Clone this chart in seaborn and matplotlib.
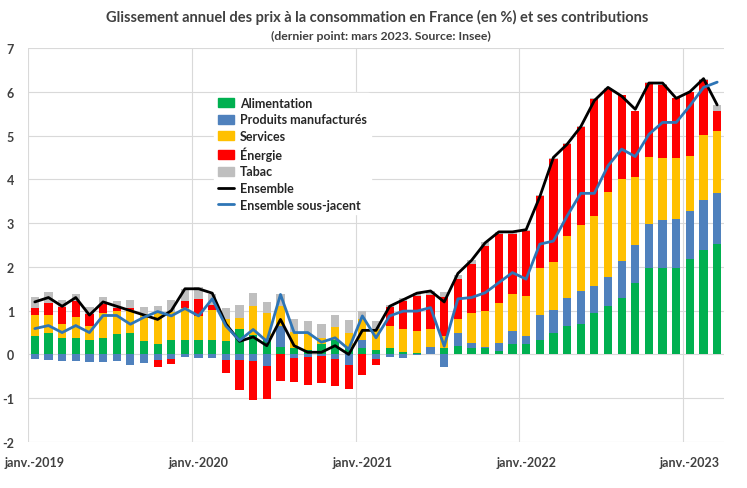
import matplotlib
matplotlib.use("Agg")
import matplotlib.pyplot as plt
import matplotlib.patches as mpatches
import matplotlib.lines as mlines
import numpy as np
import seaborn as sns

months = [f"{m:02d}-{y}" for y in range(2019, 2024) for m in range(1, 13)][:51]
tick_labels = ["janv.-2019", "janv.-2020", "janv.-2021", "janv.-2022", "janv.-2023"]

alimentation = [0.43, 0.48, 0.38, 0.38, 0.34, 0.38, 0.46, 0.50, 0.31, 0.25, 0.32, 0.32,
                0.32, 0.33, 0.31, 0.57, 0.45, 0.34, 0.18, 0.14, 0.11, 0.23, 0.34, 0.15,
                0.15, 0.11, 0.15, 0.05, 0.03, 0.02, 0.15, 0.19, 0.15, 0.15, 0.08, 0.23,
                0.23, 0.34, 0.50, 0.65, 0.69, 0.95, 1.11, 1.30, 1.63, 1.97, 1.97, 1.97,
                2.18, 2.39, 2.52]
manufactures = [-0.11, -0.13, -0.14, -0.14, -0.17, -0.17, -0.15, -0.23, -0.19, -0.13, -0.11, -0.06,
                -0.08, -0.08, -0.13, -0.13, -0.15, -0.27, 0.46, -0.08, -0.05, -0.03, -0.10, -0.25,
                0.19, -0.10, -0.06, -0.08, -0.02, 0.15, -0.28, 0.31, 0.12, 0.03, 0.19, 0.30,
                0.19, 0.55, 0.52, 0.65, 0.76, 0.61, 0.67, 0.84, 0.87, 1.01, 1.09, 1.12,
                1.09, 1.13, 1.16]
services = [0.47, 0.41, 0.31, 0.48, 0.31, 0.57, 0.53, 0.52, 0.61, 0.70, 0.65, 0.75,
            0.56, 0.69, 0.49, 0.27, 0.65, 0.60, 0.46, 0.37, 0.35, 0.15, 0.29, 0.35,
            0.46, 0.46, 0.51, 0.52, 0.50, 0.40, 0.27, 0.30, 0.68, 0.81, 0.91, 0.84,
            0.92, 1.09, 1.09, 1.41, 1.51, 1.61, 1.92, 1.87, 1.55, 1.52, 1.42, 1.39,
            1.26, 1.50, 1.43]
energie = [0.16, 0.28, 0.40, 0.36, 0.27, 0.20, 0.06, 0.03, 0.00, -0.15, -0.11, 0.14,
           0.39, 0.10, -0.30, -0.69, -0.88, -0.75, -0.61, -0.56, -0.64, -0.63, -0.63, -0.53,
           -0.48, -0.13, 0.42, 0.65, 0.80, 0.78, 0.90, 0.92, 1.11, 1.49, 1.57, 1.38,
           1.48, 1.65, 2.36, 2.10, 2.23, 2.67, 2.37, 1.91, 1.50, 1.71, 1.68, 1.37,
           1.46, 1.26, 0.45]
tabac = [0.26, 0.26, 0.15, 0.15, 0.17, 0.17, 0.16, 0.20, 0.16, 0.16, 0.27, 0.28,
         0.28, 0.25, 0.27, 0.28, 0.30, 0.26, 0.28, 0.31, 0.31, 0.31, 0.26, 0.28,
         0.19, 0.19, 0.06, 0.07, 0.08, 0.10, 0.10, 0.10, 0.10, 0.08, 0.05, 0.05,
         0.03, 0.02, 0.02, 0.02, 0.02, 0.02, 0.02, 0.01, 0.01, 0.01, 0.01, 0.01,
         0.01, 0.01, 0.13]
ensemble = [1.2, 1.3, 1.1, 1.3, 0.9, 1.2, 1.1, 1.0, 0.9, 0.8, 1.0, 1.5,
            1.5, 1.4, 0.7, 0.3, 0.4, 0.2, 0.8, 0.2, 0.05, 0.05, 0.2, 0.0,
            0.55, 0.55, 1.1, 1.25, 1.4, 1.45, 1.2, 1.85, 2.15, 2.55, 2.8, 2.8,
            2.85, 3.6, 4.5, 4.8, 5.2, 5.8, 6.1, 5.9, 5.6, 6.2, 6.2, 5.85,
            6.0, 6.3, 5.7]
sous_jacent = [0.59, 0.66, 0.50, 0.66, 0.50, 0.89, 0.89, 0.69, 0.85, 0.98, 0.88, 1.05,
               0.88, 1.27, 0.65, 0.32, 0.57, 0.30, 1.37, 0.50, 0.50, 0.28, 0.38, 0.12,
               0.88, 0.38, 0.88, 0.99, 0.99, 1.07, 0.19, 1.27, 1.30, 1.41, 1.64, 1.87,
               1.72, 2.52, 2.59, 3.16, 3.68, 3.68, 4.31, 4.69, 4.52, 5.03, 5.30, 5.30,
               5.68, 6.10, 6.22]

series_names = ["Alimentation", "Produits manufacturés", "Services", "Énergie", "Tabac"]
series_vals = [alimentation, manufactures, services, energie, tabac]
colors = ["#00B050", "#4F81BD", "#FFC000", "#FF0000", "#BFBFBF"]

sns.set_theme(style="white")
plt.rcParams["font.family"] = ["Lato", "DejaVu Sans"]

fig = plt.figure(figsize=(7.47, 4.89), dpi=100)
ax = fig.add_axes([28 / 747, 46 / 489, 696 / 747, 394 / 489])

x = np.arange(len(months))
pos_base = np.zeros(len(x))
neg_base = np.zeros(len(x))
for name, vals, col in zip(series_names, series_vals, colors):
    v = np.array(vals, dtype=float)
    bottoms = np.where(v >= 0, pos_base, neg_base)
    ax.bar(x, v, width=0.6, bottom=bottoms, color=col, linewidth=0, zorder=2)
    pos_base = pos_base + np.where(v >= 0, v, 0)
    neg_base = neg_base + np.where(v < 0, v, 0)

sns.lineplot(x=x, y=ensemble, color="black", linewidth=2, ax=ax, zorder=3)
sns.lineplot(x=x, y=sous_jacent, color="#2E75B6", linewidth=2, ax=ax, zorder=4)

ax.set_xlim(-0.5, 50.5)
ax.set_ylim(-2, 7)
ax.set_yticks(range(-2, 8))
ax.set_yticklabels([str(v) for v in range(-2, 8)], fontsize=9, fontweight="bold", color="#404040")
ax.set_xticks([0, 12, 24, 36, 48])
ax.set_xticklabels(tick_labels, fontsize=9, fontweight="bold", color="#404040")
ax.set_xticks([-0.5, 11.5, 23.5, 35.5, 47.5], minor=True)
ax.tick_params(axis="x", which="both", length=0, pad=10)
ax.tick_params(axis="y", length=0, pad=10)
ax.grid(False)
ax.grid(axis="y", color="#D9D9D9", linewidth=0.8, zorder=0)
ax.grid(axis="x", which="minor", color="#D9D9D9", linewidth=0.8, zorder=0)
for s in ax.spines.values():
    s.set_visible(False)
ax.set_xlabel("")
ax.set_ylabel("")

handles = [mpatches.Patch(color=c, label=n) for n, c in zip(series_names, colors)]
handles += [mlines.Line2D([], [], color="black", lw=2, label="Ensemble"),
            mlines.Line2D([], [], color="#2E75B6", lw=2, label="Ensemble sous-jacent")]
leg = ax.legend(handles=handles, loc="upper left", bbox_to_anchor=(208 / 747, 1 - 88 / 489),
                bbox_transform=fig.transFigure, frameon=True, fontsize=9,
                handlelength=1.3, handleheight=0.7, labelspacing=0.36, borderpad=0.3,
                handletextpad=0.45)
leg.get_frame().set_facecolor("white")
leg.get_frame().set_edgecolor("white")
leg.get_frame().set_alpha(1)
leg.set_zorder(10)
for t in leg.get_texts():
    t.set_fontweight("bold")
    t.set_color("#262626")

fig.text(0.505, 1 - 17 / 489, "Glissement annuel des prix à la consommation en France (en %) et ses contributions",
         ha="center", va="center", fontsize=10.5, fontweight="bold", color="#404040")
fig.text(0.51, 1 - 36 / 489, "(dernier point: mars 2023. Source: Insee)",
         ha="center", va="center", fontsize=8.8, fontweight="bold", color="#404040")

fig.savefig("out.png", dpi=100)
